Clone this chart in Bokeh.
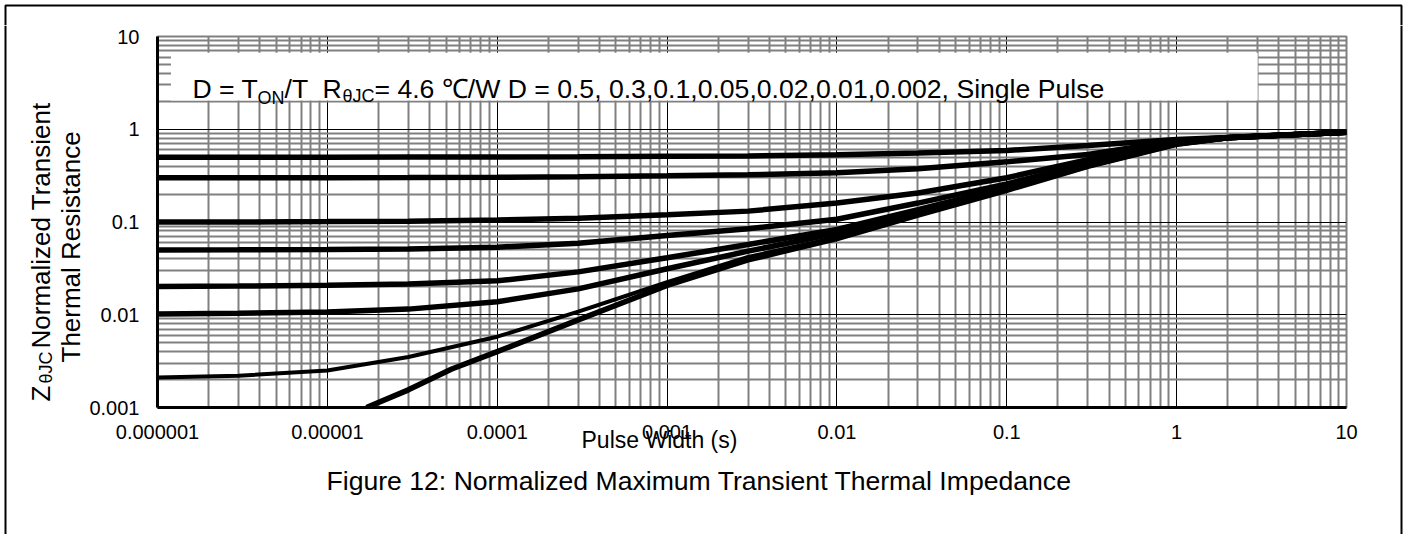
import math
from bokeh.plotting import figure
from bokeh.layouts import row, column
from bokeh.models import (Range1d, FixedTicker, CustomJSTickFormatter, Label, Title,
                          BoxAnnotation, PolyAnnotation, Span)
from bokeh.embed import file_html
from bokeh.resources import INLINE

# ---------------- data ----------------
x_ticks = [1e-6, 1e-5, 1e-4, 1e-3, 1e-2, 1e-1, 1, 10]
x_tick_labels = ["0.000001", "0.00001", "0.0001", "0.001", "0.01", "0.1", "1", "10"]
y_ticks = [1e-3, 1e-2, 1e-1, 1, 10]
y_tick_labels = ["0.001", "0.01", "0.1", "1", "10"]

t = [1e-6, 3e-6, 1e-5, 3e-5, 1e-4, 3e-4, 1e-3, 3e-3, 1e-2, 3e-2, 0.1, 0.3, 1, 2, 10]
z_d05 = [0.500, 0.500, 0.500, 0.501, 0.503, 0.505, 0.510, 0.514, 0.530, 0.555, 0.590, 0.670, 0.775, 0.815, 0.930]
z_d03 = [0.300, 0.300, 0.300, 0.301, 0.303, 0.307, 0.315, 0.323, 0.340, 0.375, 0.445, 0.535, 0.750, 0.813, 0.930]
z_d01 = [0.100, 0.100, 0.101, 0.102, 0.105, 0.110, 0.120, 0.131, 0.160, 0.205, 0.300, 0.470, 0.725, 0.810, 0.930]
z_d005 = [0.0500, 0.0502, 0.0505, 0.0510, 0.0535, 0.0590, 0.0715, 0.0845, 0.107, 0.160, 0.258, 0.430, 0.710, 0.810, 0.930]
z_d002 = [0.0202, 0.0204, 0.0208, 0.0215, 0.0232, 0.0290, 0.0411, 0.0572, 0.0830, 0.136, 0.236, 0.410, 0.700, 0.808, 0.930]
z_d001 = [0.0102, 0.0104, 0.0107, 0.0115, 0.0138, 0.0190, 0.0313, 0.0485, 0.0757, 0.127, 0.228, 0.403, 0.695, 0.808, 0.930]
z_d0002 = [0.0021, 0.0022, 0.0025, 0.0035, 0.0058, 0.0108, 0.0224, 0.0420, 0.0680, 0.121, 0.222, 0.400, 0.690, 0.808, 0.930]
t_single = [1.7e-5, 3e-5, 5.4e-5, 1e-4, 3e-4, 1e-3, 3e-3, 1e-2, 3e-2, 0.1, 0.3, 1, 2, 10]
z_single = [0.0010, 0.00155, 0.0026, 0.0040, 0.0088, 0.0207, 0.039, 0.0664, 0.119, 0.220, 0.398, 0.688, 0.808, 0.930]

FONT = "Liberation Sans"
W, H = 1407, 534
TOP_H, LEFT_W, RIGHT_W = 25, 86, 20


def no_align(f):
    try:
        f.frame_align = False
    except Exception:
        pass


def blank(width, height, x0, x1, y0, y1):
    """Helper canvas whose frame fills the whole figure (page-pixel data coords)."""
    f = figure(width=width, height=height, x_range=Range1d(x0, x1), y_range=Range1d(y0, y1),
               x_axis_location=None, y_axis_location=None,
               output_backend="svg", toolbar_location=None, min_border=0)
    f.min_border_left = f.min_border_right = f.min_border_top = f.min_border_bottom = 0
    f.outline_line_color = None
    f.grid.visible = False
    f.background_fill_color = "white"
    f.border_fill_color = "white"
    no_align(f)
    return f


# ---------------- main chart ----------------
MAIN_W = W - LEFT_W - RIGHT_W
MAIN_H = H - TOP_H
p = figure(width=MAIN_W, height=MAIN_H, x_axis_type="log", y_axis_type="log",
           x_range=Range1d(1e-6, 10), y_range=Range1d(1e-3, 10),
           output_backend="svg", toolbar_location=None,
           min_border_left=156 - LEFT_W, min_border_right=(W - RIGHT_W) - 1346,
           min_border_top=36 - TOP_H, min_border_bottom=MAIN_H - (36 - TOP_H) - 371)
no_align(p)
p.background_fill_color = "white"
p.border_fill_color = "white"
p.outline_line_color = "#808080"
p.outline_line_width = 2


def minor_for(decades):
    out = []
    for d in decades[:-1]:
        for k in range(2, 10):
            out.append(k * d)
    return out


p.xaxis.ticker = FixedTicker(ticks=x_ticks, minor_ticks=minor_for(x_ticks))
p.yaxis.ticker = FixedTicker(ticks=y_ticks, minor_ticks=minor_for(y_ticks))
fmt_code = """
let best = 0, bd = Infinity;
for (let i = 0; i < tv.length; i++) {
  const d = Math.abs(Math.log10(tick) - Math.log10(tv[i]));
  if (d < bd) { bd = d; best = i; }
}
return tl[best];
"""
p.xaxis.formatter = CustomJSTickFormatter(args=dict(tv=x_ticks, tl=x_tick_labels), code=fmt_code)
p.yaxis.formatter = CustomJSTickFormatter(args=dict(tv=y_ticks, tl=y_tick_labels), code=fmt_code)

for ax in (p.xaxis, p.yaxis):
    ax.axis_line_color = "black"
    ax.axis_line_width = 3
    ax.major_tick_out = 0
    ax.major_tick_in = 0
    ax.minor_tick_out = 0
    ax.minor_tick_in = 0
    ax.major_label_text_font = FONT
    ax.major_label_text_font_size = "20px"
    ax.major_label_text_color = "black"
p.xaxis.major_label_standoff = 17
p.yaxis.major_label_standoff = 18

for g in (p.xgrid, p.ygrid):
    g.grid_line_color = "black"
    g.grid_line_width = 1
    g.minor_grid_line_color = "#808080"
    g.minor_grid_line_width = 2

# white legend box over the grid
p.add_layout(BoxAnnotation(left=1.2e-6, right=3.0, bottom=2.04, top=6.7, level="overlay",
                           fill_color="white", fill_alpha=1.0, line_color=None))

# curves
for z in (z_d05, z_d03, z_d01, z_d005, z_d002, z_d001):
    p.line(t, z, line_color="black", line_width=5.5)
p.line(t, z_d0002, line_color="black", line_width=4)
p.line(t_single, z_single, line_color="black", line_width=5.5)


def lab(fig, text, x, y, size, angle=0.0, units="screen"):
    fig.add_layout(Label(x=x, y=y, x_units=units, y_units=units, text=text,
                         text_font=FONT, text_font_size=f"{size}px", text_color="black",
                         angle=angle, text_align="left", text_baseline="alphabetic",
                         level="overlay"))


# annotation text inside the white box (screen units relative to the frame)
lab(p, "D = T", 35, 319, 26.6)
lab(p, "ON", 100, 310, 18)
lab(p, "/T", 127, 319, 26.6)
lab(p, "R", 165, 319, 26.6)
lab(p, "θJC", 185, 312, 18)
lab(p, "= 4.6 ℃/W D = 0.5, 0.3,0.1,0.05,0.02,0.01,0.002, Single Pulse", 217, 319, 26.6)

# x-axis title and figure caption below the chart
p.add_layout(Title(text="Pulse Width (s)", align="left", offset=424, standoff=-29,
                   vertical_align="top",
                   text_font=FONT, text_font_size="23px", text_font_style="normal",
                   text_color="black"), "below")
p.add_layout(Title(text="Figure 12: Normalized Maximum Transient Thermal Impedance",
                   align="left", offset=169, standoff=48, vertical_align="top",
                   text_font=FONT, text_font_size="26.6px", text_font_style="normal",
                   text_color="black"), "below")

# ---------------- side canvases (y title and page border) ----------------
left = blank(LEFT_W, MAIN_H, 0, LEFT_W, H, TOP_H)
lab(left, "Z", 40, 401, 26, angle=math.pi / 2, units="data")
lab(left, "θJC", 45, 383, 18, angle=math.pi / 2, units="data")
lab(left, "Normalized Transient", 40, 348, 26, angle=math.pi / 2, units="data")
lab(left, "Thermal Resistance", 70, 362, 26, angle=math.pi / 2, units="data")
left.add_layout(Span(location=5, dimension="height", line_color="black", line_width=2))

top = blank(W, TOP_H, 0, W, TOP_H, 0)
top.add_layout(PolyAnnotation(xs=[5, 5, 1401, 1401], ys=[80, 5, 5, 80],
                              fill_alpha=0.0, line_color="black", line_alpha=1.0,
                              line_width=2))

right = blank(RIGHT_W, MAIN_H, W - RIGHT_W, W, H, TOP_H)
right.add_layout(Span(location=1401, dimension="height", line_color="black", line_width=2))

layout = column(top, row(left, p, right, spacing=0), spacing=0)
open("out.html", "w").write(file_html(layout, INLINE))
